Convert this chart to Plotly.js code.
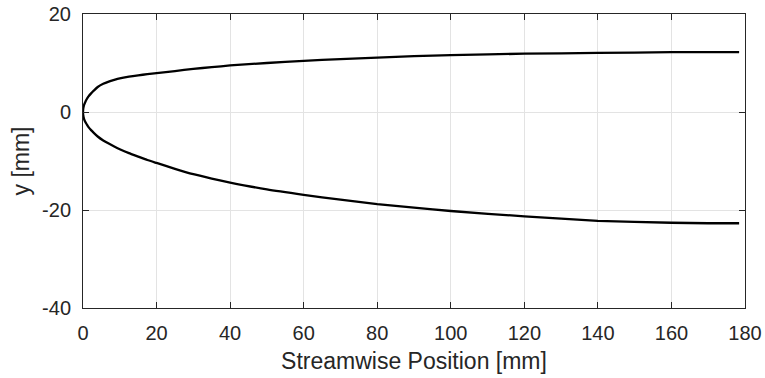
<!DOCTYPE html>
<html>
<head>
<meta charset="utf-8">
<script src="https://cdn.plot.ly/plotly-3.0.1.min.js"></script>
<style>html,body{margin:0;padding:0;background:#fff;}#chart{width:765px;height:378px;}</style>
</head>
<body>
<div id="chart"></div>
<script>
// Streamwise position [mm]
const xPos = [0, 0.05, 0.15, 0.3, 0.6, 1, 1.5, 2.2, 3, 4, 5.5, 7, 8.5, 10, 12.5, 15, 17.5, 20, 25, 30, 35, 40, 50, 60, 70, 80, 90, 100, 120, 140, 160, 170, 178.4];
// Upper boundary y [mm]
const yUpper = [0, 0.6, 1.0, 1.45, 2.0, 2.6, 3.2, 3.8, 4.4, 5.1, 5.75, 6.2, 6.55, 6.85, 7.2, 7.48, 7.72, 7.92, 8.35, 8.8, 9.15, 9.5, 10.0, 10.45, 10.8, 11.1, 11.4, 11.6, 11.9, 12.05, 12.2, 12.2, 12.2];
// Lower boundary y [mm]
const yLower = [0, -0.6, -1.0, -1.45, -2.0, -2.5, -3.1, -3.7, -4.3, -5.0, -5.8, -6.45, -7.05, -7.6, -8.4, -9.1, -9.8, -10.4, -11.6, -12.7, -13.6, -14.4, -15.8, -16.9, -17.9, -18.8, -19.5, -20.2, -21.3, -22.2, -22.6, -22.7, -22.7];
const xTicks = [0, 20, 40, 60, 80, 100, 120, 140, 160, 180];
const yTicks = [-40, -20, 0, 20];
const yTickText = ["-40", "-20", "0", "20"];

const lineStyle = {color: '#000000', width: 2.3, shape: 'spline', smoothing: 0.5};
const traces = [
  {x: xPos, y: yUpper, mode: 'lines', line: lineStyle, hoverinfo: 'skip'},
  {x: xPos, y: yLower, mode: 'lines', line: lineStyle, hoverinfo: 'skip'}
];
const fam = 'Liberation Sans, Arial, Helvetica, sans-serif';
const axisCommon = {
  showline: true, linecolor: '#262626', linewidth: 1, mirror: 'ticks',
  ticks: 'inside', ticklen: 6, tickcolor: '#262626', tickwidth: 1,
  showgrid: true, gridcolor: '#e3e3e3', gridwidth: 1, zeroline: false,
  tickfont: {family: fam, size: 20, color: '#262626'}
};
const layout = {
  width: 765, height: 378,
  margin: {l: 83, r: 20, t: 14, b: 70},
  paper_bgcolor: '#ffffff', plot_bgcolor: '#ffffff',
  showlegend: false, font: {family: fam, size: 20, color: '#262626'},
  xaxis: Object.assign({}, axisCommon, {
    range: [0, 180], tickvals: xTicks, ticktext: xTicks.map(String),
    ticklabelstandoff: 7,
    title: {text: 'Streamwise Position [mm]', font: {family: fam, size: 23, color: '#262626'}, standoff: 9}
  }),
  yaxis: Object.assign({}, axisCommon, {
    range: [-40, 20], tickvals: yTicks, ticktext: yTickText,
    ticklabelstandoff: 7,
    title: {text: 'y [mm]', font: {family: fam, size: 23, color: '#262626'}, standoff: 6}
  })
};
Plotly.newPlot('chart', traces, layout, {staticPlot: true, displayModeBar: false});
</script>
</body>
</html>
